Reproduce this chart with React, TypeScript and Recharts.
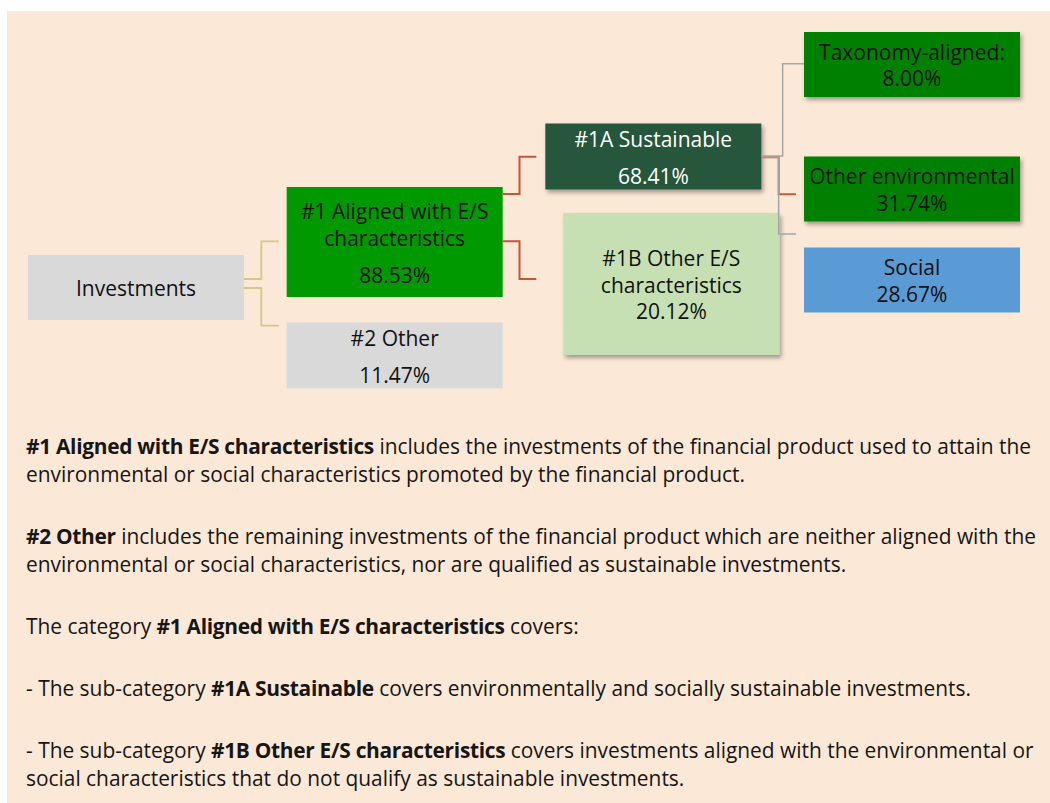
import React from 'react';
import { ScatterChart, Scatter, XAxis, YAxis } from 'recharts';

// tree nodes
const nodeIds = ['inv', 'aligned', 'other', 'sust', 'otherES', 'taxonomy', 'otherEnv', 'social'];
const nodeLabels = [
  ['Investments'],
  ['#1 Aligned with E/S', 'characteristics'],
  ['#2 Other'],
  ['#1A Sustainable'],
  ['#1B Other E/S', 'characteristics'],
  ['Taxonomy-aligned:'],
  ['Other environmental'],
  ['Social'],
];
const nodeShares = [null, 88.53, 11.47, 68.41, 20.12, 8.0, 31.74, 28.67];
const nodeLevels = [0, 1, 1, 2, 2, 3, 3, 3];
const linkPairs = [
  ['inv', 'aligned'],
  ['inv', 'other'],
  ['aligned', 'sust'],
  ['aligned', 'otherES'],
  ['sust', 'taxonomy'],
  ['sust', 'otherEnv'],
  ['sust', 'social'],
];

// layout (page pixels)
const LEFT = 7;
const TOP = 11;
const W = 1043;
const CHART_H = 400;
const COL_X = 136;
const COL_STEP = 258.67;
const BOX_W = 216;
const FONT = '"Open Sans", Carlito, Calibri, sans-serif';

const boxStyle: Record<string, any> = {
  inv: { cy: 287.5, h: 65, fill: '#D9D9D9', color: '#111', valueGap: 37 },
  aligned: { cy: 242, h: 110, fill: '#009A00', color: '#111', valueGap: 37 },
  other: { cy: 355.5, h: 66, fill: '#D9D9D9', color: '#111', valueGap: 37 },
  sust: { cy: 156.5, h: 66, fill: '#27573A', color: '#fff', valueGap: 37, shadow: true },
  otherES: { cy: 284, h: 142, fill: '#C6E0B4', color: '#111', valueGap: 26.5, shadow: true, dx: 18 },
  taxonomy: { cy: 64.5, h: 65, fill: '#008000', color: '#111', valueGap: 26.5, shadow: true },
  otherEnv: { cy: 189, h: 65, fill: '#008000', color: '#111', valueGap: 26.5, shadow: true },
  social: { cy: 280, h: 65, fill: '#5B9BD5', color: '#111', valueGap: 26.5 },
};

const linkStyle = [
  { y0: 279, y1: 241.3, gap: 8, stroke: '#D5C68A', w: 1.8 },
  { y0: 288, y1: 325.7, gap: 8, stroke: '#D5C68A', w: 1.8 },
  { y0: 194, y1: 156.7, gap: 9, stroke: '#C8553A', w: 2 },
  { y0: 241.3, y1: 279, gap: 9, stroke: '#C8553A', w: 2 },
  { y0: 156, y1: 63.7, gap: 0, stroke: '#A6A6A6', w: 1.5 },
  { y0: 157.3, y1: 194.3, gap: 8, stroke: '#C8553A', w: 2 },
  { y0: 157, y1: 234, gap: 8, stroke: '#A6A6A6', w: 1.5 },
];

const colCenter = (level: number) => COL_X + level * COL_STEP;

const nodeData = nodeIds.map((id, i) => ({
  id,
  x: colCenter(nodeLevels[i]) + (boxStyle[id].dx || 0),
  y: boxStyle[id].cy,
  lines: nodeLabels[i],
  share: nodeShares[i],
}));

const linkData = linkPairs.map(([from, to], i) => {
  const p = nodeIds.indexOf(from);
  const c = nodeIds.indexOf(to);
  const s = linkStyle[i];
  const x0 = nodeData[p].x + BOX_W / 2;
  const x1 = colCenter(nodeLevels[c]) - BOX_W / 2 - s.gap;
  const xm = (x0 + x1) / 2;
  return [
    { x: x0, y: s.y0 },
    { x: xm, y: s.y0 },
    { x: xm, y: s.y1 },
    { x: x1, y: s.y1 },
  ];
});

const NodeBox = (props: any) => {
  const { cx, cy, payload } = props;
  const st = boxStyle[payload.id];
  const lines = [...payload.lines];
  if (payload.share != null) lines.push(payload.share.toFixed(2) + '%');
  let pos = 0;
  const offs: number[] = [];
  lines.forEach((_, i) => {
    if (i > 0) pos += i === lines.length - 1 && payload.share != null ? st.valueGap : 27;
    offs.push(pos);
  });
  const shift = pos / 2;
  return (
    <g>
      <rect
        x={cx - BOX_W / 2}
        y={cy - st.h / 2}
        width={BOX_W}
        height={st.h}
        fill={st.fill}
        filter={st.shadow ? 'url(#boxShadow)' : undefined}
      />
      {lines.map((t, i) => (
        <text
          key={i}
          x={cx}
          y={cy + offs[i] - shift + 1 + 7.5}
          textAnchor="middle"
          fill={st.color}
          fontFamily={FONT}
          fontSize={21}
        >
          {t}
        </text>
      ))}
    </g>
  );
};

const noDot = () => <g />;

const para: React.CSSProperties = { margin: '0 0 34px 0', whiteSpace: 'nowrap' };
const B = ({ children }: { children: React.ReactNode }) => (
  <b style={{ letterSpacing: '-0.3px' }}>{children}</b>
);

export default function App() {
  return (
    <div
      style={{
        position: 'absolute',
        left: LEFT,
        top: TOP,
        width: W,
        height: 792,
        background: '#FBE8D7',
        overflow: 'hidden',
      }}
    >
      <svg width={0} height={0} style={{ position: 'absolute' }}>
        <defs>
          <filter id="boxShadow" x="-10%" y="-10%" width="130%" height="140%">
            <feDropShadow dx={2} dy={3} stdDeviation={2} floodColor="#000" floodOpacity={0.35} />
          </filter>
        </defs>
      </svg>
      <ScatterChart width={W} height={CHART_H} margin={{ top: 0, right: 0, bottom: 0, left: 0 }}>
        <XAxis type="number" dataKey="x" domain={[LEFT, LEFT + W]} hide allowDataOverflow />
        <YAxis type="number" dataKey="y" domain={[TOP, TOP + CHART_H]} reversed hide allowDataOverflow />
        <Scatter data={nodeData} shape={NodeBox} isAnimationActive={false} legendType="none" />
        {linkData.map((pts, i) => (
          <Scatter
            key={i}
            data={pts}
            shape={noDot}
            line={{ stroke: linkStyle[i].stroke, strokeWidth: linkStyle[i].w }}
            isAnimationActive={false}
            legendType="none"
          />
        ))}
      </ScatterChart>
      <div
        style={{
          position: 'absolute',
          left: 19,
          top: 421,
          fontFamily: FONT,
          fontSize: 20.9,
          lineHeight: '28px',
          color: '#161616',
        }}
      >
        <p style={para}>
          <B>#1 Aligned with E/S characteristics</B> includes the investments of the financial product used to attain the
          <br />
          environmental or social characteristics promoted by the financial product.
        </p>
        <p style={para}>
          <B>#2 Other</B> includes the remaining investments of the financial product which are neither aligned with the
          <br />
          environmental or social characteristics, nor are qualified as sustainable investments.
        </p>
        <p style={para}>
          The category <B>#1 Aligned with E/S characteristics</B> covers:
        </p>
        <p style={para}>
          - The sub-category <B>#1A Sustainable</B> covers environmentally and socially sustainable investments.
        </p>
        <p style={para}>
          - The sub-category <B>#1B Other E/S characteristics</B> covers investments aligned with the environmental or
          <br />
          social characteristics that do not qualify as sustainable investments.
        </p>
      </div>
    </div>
  );
}
